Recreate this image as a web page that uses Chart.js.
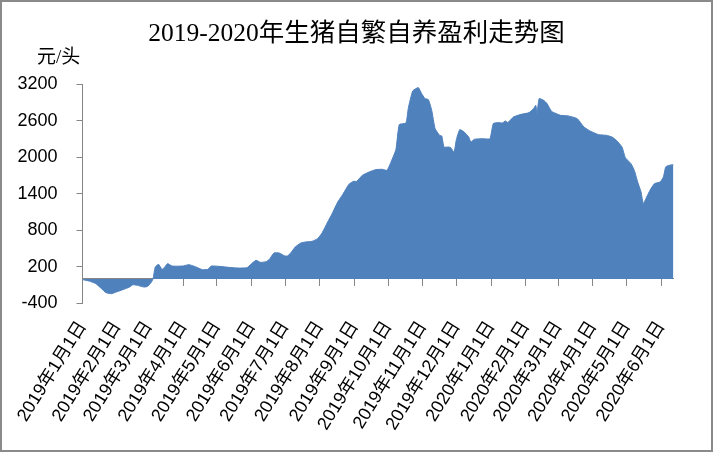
<!DOCTYPE html>
<html>
<head>
<meta charset="utf-8">
<script src="https://cdn.jsdelivr.net/npm/chart.js@4/dist/chart.umd.min.js"></script>
<style>
  html, body { margin: 0; padding: 0; background: #fff; }
  #box { width: 713px; height: 452px; box-sizing: border-box; border: 2px solid #8a8a8a; background: #fff; }
  canvas { display: block; }
</style>
</head>
<body>
<div id="box"><canvas id="chart" width="709" height="448"></canvas></div>
<script>
// Datos (元/头)
const fechas = [
  '2019-01-01','2019-01-07','2019-01-13','2019-01-18','2019-01-22','2019-01-27','2019-01-31',
  '2019-02-06','2019-02-12','2019-02-15','2019-02-19','2019-02-25','2019-02-28',
  '2019-03-03','2019-03-05','2019-03-07','2019-03-10','2019-03-13','2019-03-15','2019-03-18','2019-03-22','2019-03-31',
  '2019-04-06','2019-04-11','2019-04-18','2019-04-23','2019-04-26',
  '2019-05-03','2019-05-12','2019-05-21','2019-05-28','2019-05-31',
  '2019-06-05','2019-06-09','2019-06-14','2019-06-17','2019-06-21','2019-06-26','2019-06-30',
  '2019-07-03','2019-07-06','2019-07-10','2019-07-15','2019-07-19','2019-07-25','2019-07-30',
  '2019-08-03','2019-08-08','2019-08-12','2019-08-17','2019-08-21','2019-08-27','2019-08-31',
  '2019-09-03','2019-09-08','2019-09-14','2019-09-20','2019-09-26','2019-09-30',
  '2019-10-03','2019-10-08','2019-10-11','2019-10-17','2019-10-19','2019-10-23','2019-10-28','2019-10-31',
  '2019-11-03','2019-11-06','2019-11-09','2019-11-12','2019-11-16','2019-11-18','2019-11-20','2019-11-24','2019-11-26','2019-11-29',
  '2019-12-01','2019-12-04','2019-12-08','2019-12-12','2019-12-14','2019-12-17','2019-12-24','2019-12-31',
  '2020-01-03','2020-01-08','2020-01-11','2020-01-14','2020-01-16','2020-01-21','2020-01-27',
  '2020-02-04','2020-02-08','2020-02-10','2020-02-11','2020-02-13','2020-02-17','2020-02-20','2020-02-24','2020-02-27',
  '2020-03-03','2020-03-10','2020-03-18','2020-03-24','2020-03-30',
  '2020-04-06','2020-04-13','2020-04-18','2020-04-22','2020-04-27','2020-04-30',
  '2020-05-05','2020-05-08','2020-05-11','2020-05-14','2020-05-16','2020-05-19','2020-05-22','2020-05-26','2020-05-31',
  '2020-06-03','2020-06-05','2020-06-08','2020-06-12'
];
const ganancia = [
  -10, -35, -78, -160, -225, -242, -215,
  -176, -133, -94, -105, -133, -122,
  -67, 0, 196, 240, 158, 186, 252, 212, 212,
  235, 207, 153, 158, 212,
  207, 190, 179, 186, 235,
  306, 273, 284, 322, 426, 426, 383,
  377, 426, 524, 590, 607, 618, 662,
  755, 935, 1073, 1264, 1374, 1555, 1605,
  1605, 1703, 1757, 1797, 1802, 1785,
  1895, 2126, 2537, 2563, 2800, 3089, 3145, 3046,
  2964, 2948, 2772, 2471, 2361, 2349, 2168, 2168, 2158, 2086,
  2290, 2454, 2415, 2333, 2251, 2295, 2306, 2306,
  2553, 2570, 2563, 2596, 2570, 2662, 2701,
  2734, 2800, 2854, 2718, 2964, 2936, 2882, 2755, 2727,
  2690, 2679, 2635, 2497, 2427,
  2372, 2361, 2333, 2279, 2168, 1994,
  1895, 1785, 1593, 1429, 1238, 1346, 1457, 1567, 1593,
  1676, 1840, 1868, 1879
];
const mesesTicks = [
  '2019-01-01','2019-02-01','2019-03-01','2019-04-01','2019-05-01','2019-06-01',
  '2019-07-01','2019-08-01','2019-09-01','2019-10-01','2019-11-01','2019-12-01',
  '2020-01-01','2020-02-01','2020-03-01','2020-04-01','2020-05-01','2020-06-01'
];
const mesesLabels = [
  '2019年1月1日','2019年2月1日','2019年3月1日','2019年4月1日','2019年5月1日','2019年6月1日',
  '2019年7月1日','2019年8月1日','2019年9月1日','2019年10月1日','2019年11月1日','2019年12月1日',
  '2020年1月1日','2020年2月1日','2020年3月1日','2020年4月1日','2020年5月1日','2020年6月1日'
];
const yMin = -400, yMax = 3200, yPaso = 600;
const unidad = '元/头';

// días desde 2019-01-01
function diaIndice(s) {
  const [a, m, d] = s.split('-').map(Number);
  return (Date.UTC(a, m - 1, d) - Date.UTC(2019, 0, 1)) / 86400000;
}
const ticksDia = mesesTicks.map(diaIndice);
const xMax = diaIndice(fechas[fechas.length - 1]);
const puntos = fechas.map((f, i) => ({ x: diaIndice(f), y: ganancia[i] }));

const gris = '#868686';
const fuenteTxt = "'Liberation Sans', 'Noto Sans CJK SC', sans-serif";
const fuenteTit = "'Liberation Serif', 'Noto Sans CJK SC', serif";

function ticksMensuales(scale) {
  scale.ticks = ticksDia.map(v => ({ value: v }));
}

// Unidad sobre el eje Y (horizontal, como en Excel)
const unidadPlugin = {
  id: 'unidad',
  afterDraw(chart) {
    const { ctx, chartArea } = chart;
    ctx.save();
    ctx.font = '19px ' + fuenteTit;
    ctx.fillStyle = '#000';
    ctx.textAlign = 'left';
    ctx.textBaseline = 'middle';
    ctx.fillText(unidad, chartArea.left - 45.5, chartArea.top - 26);
    ctx.restore();
  }
};

new Chart(document.getElementById('chart'), {
  type: 'line',
  data: {
    datasets: [{
      data: puntos,
      backgroundColor: '#4F81BD',
      borderColor: '#4F81BD',
      borderWidth: 1,
      pointRadius: 0,
      tension: 0.15,
      fill: 'origin'
    }]
  },
  plugins: [unidadPlugin],
  options: {
    responsive: false,
    animation: false,
    devicePixelRatio: 1,
    layout: { padding: 0 },
    plugins: {
      legend: { display: false },
      tooltip: { enabled: false },
      title: {
        display: true,
        text: '2019-2020年生猪自繁自养盈利走势图',
        color: '#000',
        font: { family: fuenteTit, size: 25.5, weight: 'normal', lineHeight: 1.1 },
        padding: { top: 18, bottom: 36.2 }
      }
    },
    scales: {
      x: {
        type: 'linear',
        position: 'bottom',
        min: 0,
        max: xMax,
        afterBuildTicks: ticksMensuales,
        afterFit: s => { s.height = 146.7; },
        border: { display: false },
        grid: { display: false, drawTicks: false },
        ticks: {
          autoSkip: false,
          minRotation: 58,
          maxRotation: 58,
          padding: 14,
          color: '#000',
          font: { family: fuenteTxt, size: 18 },
          callback: v => mesesLabels[ticksDia.indexOf(v)] || ''
        }
      },
      x2: {
        type: 'linear',
        axis: 'x',
        position: { y: 0 },
        min: 0,
        max: xMax,
        afterBuildTicks: ticksMensuales,
        border: { display: true, color: gris, width: 1 },
        grid: { drawOnChartArea: false, color: gris, tickLength: 7 },
        ticks: { display: false }
      },
      y: {
        position: 'left',
        min: yMin,
        max: yMax,
        afterFit: s => { s.width = 80.5; },
        border: { display: true, color: gris, width: 1 },
        grid: { drawOnChartArea: false, color: gris, tickLength: 6 },
        ticks: {
          stepSize: yPaso,
          padding: 19,
          color: '#000',
          font: { family: fuenteTxt, size: 18 },
          callback: v => String(v)
        }
      },
      // margen derecho vacío (el gráfico termina antes del borde)
      yDer: {
        type: 'linear',
        axis: 'y',
        position: 'right',
        afterFit: s => { s.width = 37.5; },
        border: { display: false },
        grid: { display: false },
        ticks: { display: false }
      }
    }
  }
});
</script>
</body>
</html>
